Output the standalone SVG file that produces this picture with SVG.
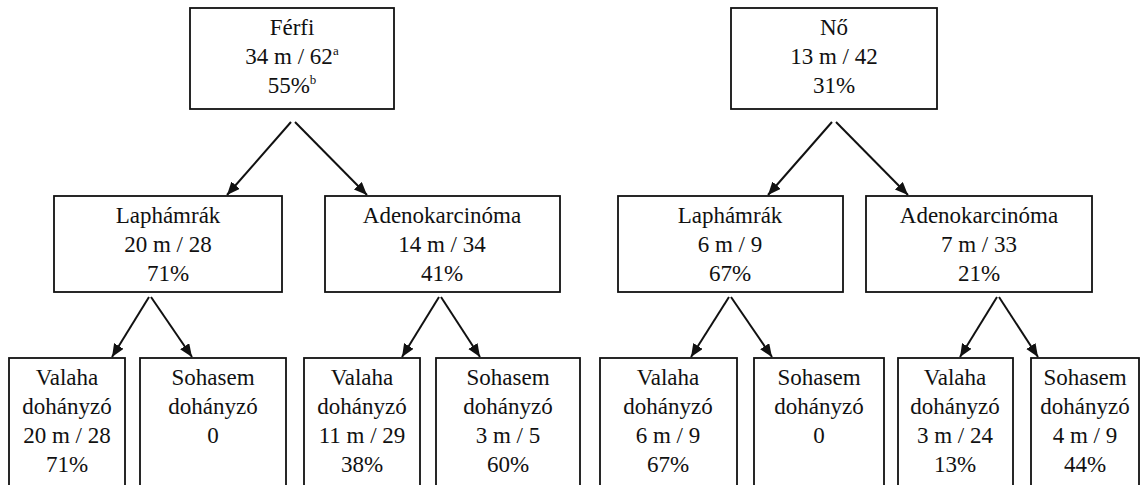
<svg xmlns="http://www.w3.org/2000/svg" width="1145" height="485" viewBox="0 0 1145 485">
<style>
.box{fill:#fff;stroke:#111;stroke-width:1.8}
.t{font-family:'Liberation Serif','DejaVu Serif',serif;font-size:23px;fill:#111;text-anchor:middle}
.sup{font-size:13px}
.c line{stroke:#111;stroke-width:2;marker-end:url(#ah)}
</style>
<defs>
<marker id="ah" markerUnits="userSpaceOnUse" markerWidth="14" markerHeight="12" refX="13" refY="5.5" orient="auto">
<path d="M0,0 L13,5.5 L0,11 z" fill="#111"/>
</marker>
</defs>
<rect width="1145" height="485" fill="#fff"/>
<g id="connectors" class="c">
<line x1="291" y1="122" x2="227" y2="195"/>
<line x1="295" y1="122" x2="367" y2="195"/>
<line x1="832" y1="122" x2="768" y2="195"/>
<line x1="836" y1="122" x2="908" y2="195"/>
<line x1="149" y1="297" x2="112" y2="357"/>
<line x1="151" y1="297" x2="192" y2="357"/>
<line x1="439" y1="297" x2="402" y2="357"/>
<line x1="441" y1="297" x2="480" y2="357"/>
<line x1="729" y1="297" x2="691" y2="357"/>
<line x1="731" y1="297" x2="772" y2="357"/>
<line x1="997" y1="297" x2="960" y2="357"/>
<line x1="999" y1="297" x2="1038" y2="357"/>
</g>
<g id="ferfi">
<rect class="box" x="190" y="8" width="204" height="101"/>
<text class="t" x="292" y="35">Férfi</text>
<text class="t" x="292" y="64">34 m / 62<tspan class="sup" dy="-9">a</tspan></text>
<text class="t" x="292" y="93">55%<tspan class="sup" dy="-9">b</tspan></text>
</g>
<g id="no">
<rect class="box" x="731" y="8" width="206" height="101"/>
<text class="t" x="834" y="35">Nő</text>
<text class="t" x="834" y="64">13 m / 42</text>
<text class="t" x="834" y="93">31%</text>
</g>
<g id="ferfi-laphamrak">
<rect class="box" x="54" y="196" width="228" height="96"/>
<text class="t" x="168" y="223">Laphámrák</text>
<text class="t" x="168" y="252">20 m / 28</text>
<text class="t" x="168" y="281">71%</text>
</g>
<g id="ferfi-adeno">
<rect class="box" x="325" y="196" width="235" height="96"/>
<text class="t" x="442" y="223">Adenokarcinóma</text>
<text class="t" x="442" y="252">14 m / 34</text>
<text class="t" x="442" y="281">41%</text>
</g>
<g id="no-laphamrak">
<rect class="box" x="618" y="196" width="225" height="96"/>
<text class="t" x="730" y="223">Laphámrák</text>
<text class="t" x="730" y="252">6 m / 9</text>
<text class="t" x="730" y="281">67%</text>
</g>
<g id="no-adeno">
<rect class="box" x="866" y="196" width="226" height="96"/>
<text class="t" x="979" y="223">Adenokarcinóma</text>
<text class="t" x="979" y="252">7 m / 33</text>
<text class="t" x="979" y="281">21%</text>
</g>
<g id="f-lap-valaha">
<rect class="box" x="9" y="358" width="116" height="140"/>
<text class="t" x="67" y="385">Valaha</text>
<text class="t" x="67" y="414">dohányzó</text>
<text class="t" x="67" y="443">20 m / 28</text>
<text class="t" x="67" y="472">71%</text>
</g>
<g id="f-lap-sohasem">
<rect class="box" x="140" y="358" width="146" height="140"/>
<text class="t" x="213" y="385">Sohasem</text>
<text class="t" x="213" y="414">dohányzó</text>
<text class="t" x="213" y="443">0</text>
</g>
<g id="f-adeno-valaha">
<rect class="box" x="304" y="358" width="116" height="140"/>
<text class="t" x="362" y="385">Valaha</text>
<text class="t" x="362" y="414">dohányzó</text>
<text class="t" x="362" y="443">11 m / 29</text>
<text class="t" x="362" y="472">38%</text>
</g>
<g id="f-adeno-sohasem">
<rect class="box" x="436" y="358" width="144" height="140"/>
<text class="t" x="508" y="385">Sohasem</text>
<text class="t" x="508" y="414">dohányzó</text>
<text class="t" x="508" y="443">3 m / 5</text>
<text class="t" x="508" y="472">60%</text>
</g>
<g id="n-lap-valaha">
<rect class="box" x="600" y="358" width="137" height="140"/>
<text class="t" x="668" y="385">Valaha</text>
<text class="t" x="668" y="414">dohányzó</text>
<text class="t" x="668" y="443">6 m / 9</text>
<text class="t" x="668" y="472">67%</text>
</g>
<g id="n-lap-sohasem">
<rect class="box" x="754" y="358" width="130" height="140"/>
<text class="t" x="819" y="385">Sohasem</text>
<text class="t" x="819" y="414">dohányzó</text>
<text class="t" x="819" y="443">0</text>
</g>
<g id="n-adeno-valaha">
<rect class="box" x="898" y="358" width="115" height="140"/>
<text class="t" x="955" y="385">Valaha</text>
<text class="t" x="955" y="414">dohányzó</text>
<text class="t" x="955" y="443">3 m / 24</text>
<text class="t" x="955" y="472">13%</text>
</g>
<g id="n-adeno-sohasem">
<rect class="box" x="1031" y="358" width="108" height="140"/>
<text class="t" x="1085" y="385">Sohasem</text>
<text class="t" x="1085" y="414">dohányzó</text>
<text class="t" x="1085" y="443">4 m / 9</text>
<text class="t" x="1085" y="472">44%</text>
</g>
</svg>
